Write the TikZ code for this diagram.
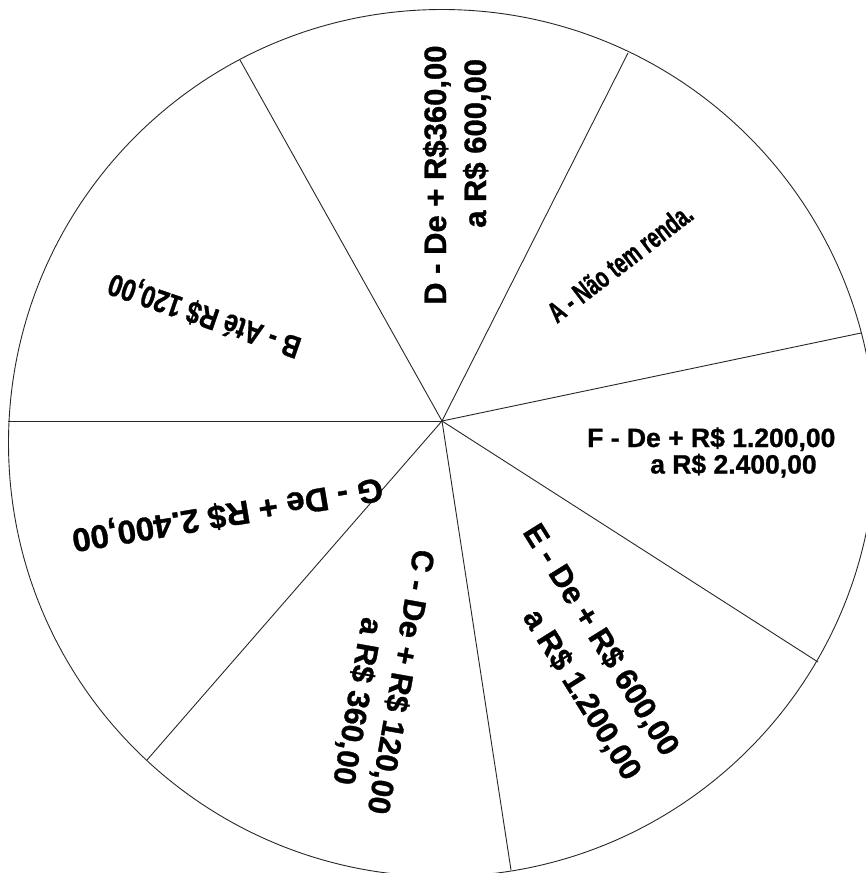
\documentclass[tikz,border=0pt]{standalone}
\usepackage{fontspec}
\setmainfont{Liberation Sans}[BoldFeatures={FakeBold=1}]
\begin{document}
\begin{tikzpicture}[x=1pt,y=-1pt,
  rim/.style={line width=0.9pt, draw=black!85},
  spoke/.style={line width=0.9pt, draw=black!85},
  lbl/.style={inner sep=0pt, anchor=base west, transform shape}]
\useasboundingbox (0,0) rectangle (866,873);
\clip (0,0) rectangle (866,873);
\coordinate (ctr) at (442,443);
\coordinate (hub) at (442,421);
\coordinate (pL)  at (8,421);
\coordinate (pUL) at (240,60);
\coordinate (pUR) at (628,53);
\coordinate (pR)  at (861,333);
\coordinate (pLR) at (818,662);
\coordinate (pB)  at (511,870);
\coordinate (pLL) at (147,760);
\draw[rim] (ctr) circle[radius=433.5pt];
\foreach \p in {pL,pUL,pUR,pR,pLR,pB,pLL} \draw[spoke] (hub) -- (\p);
% D
\begin{scope}[shift={(446,305)}, rotate=90]
\node[lbl, font=\fontsize{31}{31}\selectfont\bfseries] (d1) at (0,0) {D - De + R\$360,00};
\node[lbl, font=\fontsize{31}{31}\selectfont\bfseries] (d2) at (77,40) {a R\$ 600,00};
\end{scope}
% A
\begin{scope}[shift={(557,324)}, rotate=37.5]
\node[lbl, font=\fontsize{29}{29}\selectfont\bfseries, xscale=0.68] (a1) at (0,0) {A - Não tem renda.};
\end{scope}
% B
\begin{scope}[shift={(303,339)}, rotate=161]
\node[lbl, font=\fontsize{31}{31}\selectfont\bfseries, xscale=0.8] (b1) at (0,0) {B - Até R\$ 120,00};
\end{scope}
% G
\begin{scope}[shift={(381,478)}, rotate=189.5]
\node[lbl, font=\fontsize{33}{33}\selectfont\bfseries] (g1) at (0,0) {G - De + R\$ 2.400,00};
\end{scope}
% C
\begin{scope}[shift={(414,548)}, rotate=-100]
\node[lbl, font=\fontsize{31}{31}\selectfont\bfseries] (c1) at (0,0) {C - De + R\$ 120,00};
\node[lbl, font=\fontsize{31}{31}\selectfont\bfseries] (c2) at (76,39) {a R\$ 360,00};
\end{scope}
% E
\begin{scope}[shift={(522,532)}, rotate=-58]
\node[lbl, font=\fontsize{31}{31}\selectfont\bfseries] (e1) at (0,0) {E - De + R\$ 600,00};
\node[lbl, font=\fontsize{31}{31}\selectfont\bfseries] (e2) at (72,45) {a R\$ 1.200,00};
\end{scope}
% F
\node[lbl, font=\fontsize{26.5}{26.5}\selectfont\bfseries] (f1) at (587,447) {F - De + R\$ 1.200,00};
\node[lbl, font=\fontsize{26.5}{26.5}\selectfont\bfseries] (f2) at (650,473.5) {a R\$ 2.400,00};
\end{tikzpicture}
\end{document}
